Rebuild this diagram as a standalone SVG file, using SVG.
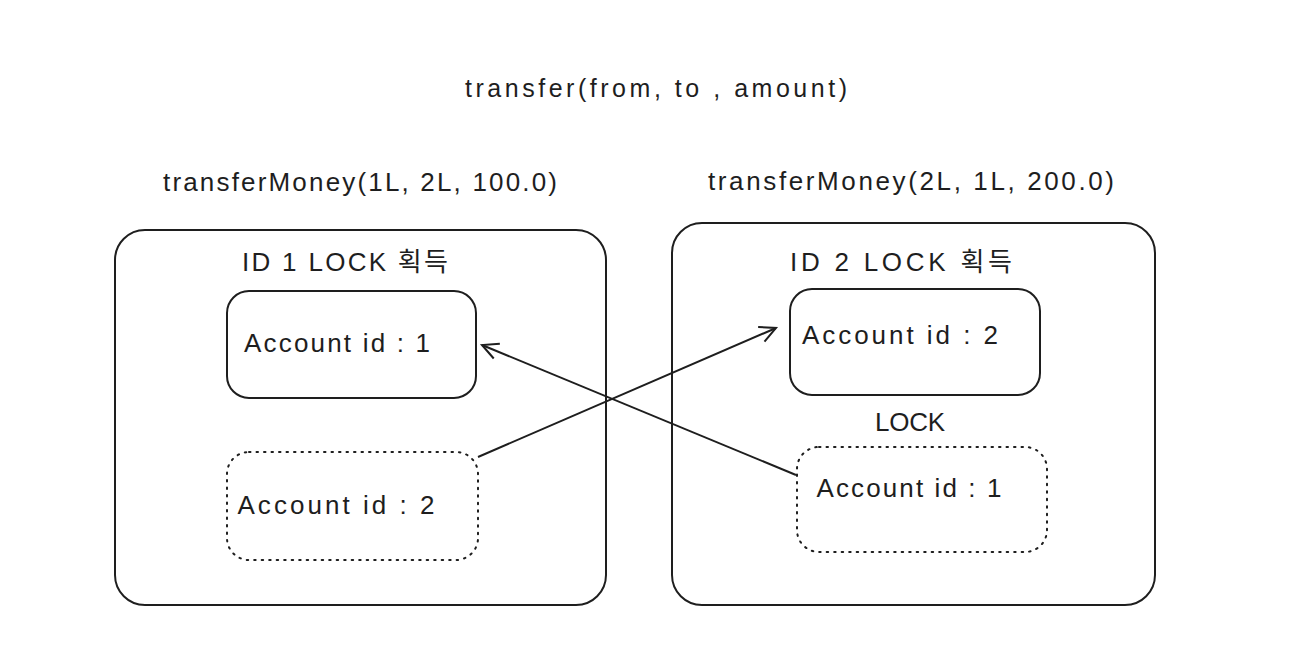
<svg xmlns="http://www.w3.org/2000/svg" width="1297" height="647" viewBox="0 0 1297 647">
<style>
.box{fill:none;stroke:#1e1e1e;stroke-width:2}
.dot{fill:none;stroke:#1e1e1e;stroke-width:2;stroke-dasharray:1.5 6;stroke-linecap:round}
.t{font-family:"Liberation Sans","Noto Sans CJK KR",sans-serif;fill:#1e1e1e;text-anchor:middle;dominant-baseline:central;font-size:26px}
.edge{fill:none;stroke:#1e1e1e;stroke-width:2}
</style>
<defs>
<marker id="arr" viewBox="0 0 20 20" refX="18" refY="10" markerWidth="20" markerHeight="20" markerUnits="userSpaceOnUse" orient="auto">
<path d="M2,2 L18,10 L2,18" fill="none" stroke="#1e1e1e" stroke-width="2"/>
</marker>
</defs>
<rect width="1297" height="647" fill="#ffffff"/>
<g id="title"><text class="t" x="656" y="88" style="font-size:25px" textLength="382">transfer(from, to , amount)</text></g>
<g id="label-left"><text class="t" x="360" y="182" textLength="394">transferMoney(1L, 2L, 100.0)</text></g>
<g id="label-right"><text class="t" x="911" y="181" textLength="406">transferMoney(2L, 1L, 200.0)</text></g>
<g id="left-outer">
<rect class="box" x="115" y="230" width="491" height="375" rx="30"/>
<text class="t" x="345" y="262" textLength="206">ID 1 LOCK 획득</text>
</g>
<g id="right-outer">
<rect class="box" x="672" y="223" width="483" height="382" rx="30"/>
<text class="t" x="901" y="262" textLength="222">ID 2 LOCK 획득</text>
<text class="t" x="910" y="422" textLength="70">LOCK</text>
</g>
<g id="left-acc1">
<rect class="box" x="227" y="291" width="249" height="107" rx="22"/>
<text class="t" x="337" y="343" textLength="186">Account id : 1</text>
</g>
<g id="left-acc2">
<rect class="dot" x="227" y="452" width="251" height="108" rx="22"/>
<text class="t" x="336" y="505" textLength="197">Account id : 2</text>
</g>
<g id="right-acc2">
<rect class="box" x="790" y="289" width="250" height="106" rx="22"/>
<text class="t" x="900" y="335" textLength="196">Account id : 2</text>
</g>
<g id="right-acc1">
<rect class="dot" x="797" y="447" width="250" height="105" rx="22"/>
<text class="t" x="909" y="488" textLength="185">Account id : 1</text>
</g>
<g id="connectors">
<path class="edge" d="M478,457 L776,328" marker-end="url(#arr)"/>
<path class="edge" d="M796,475 L482,345" marker-end="url(#arr)"/>
</g>
</svg>
